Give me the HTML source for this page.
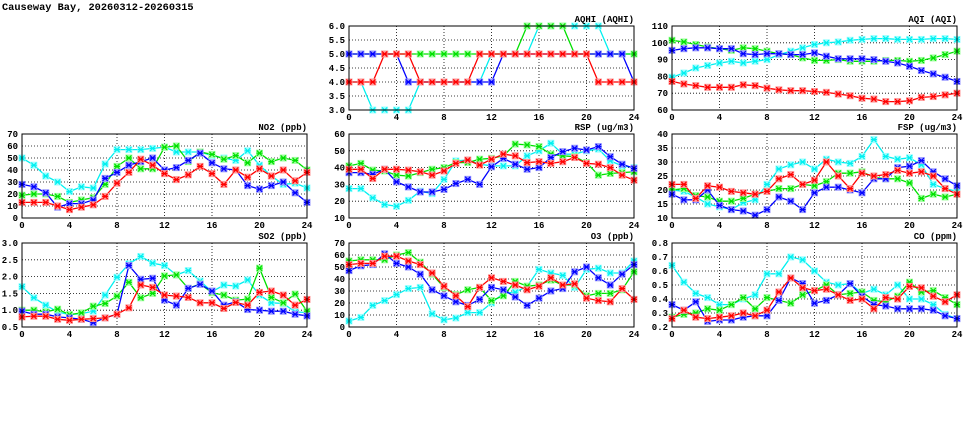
<!DOCTYPE html>
<html><head><meta charset="utf-8">
<style>
html,body{margin:0;padding:0;background:#fff;}
svg{display:block;}
text{font-family:"Liberation Mono",monospace;font-weight:bold;font-size:9px;fill:#000;}
.ttl{font-family:"Liberation Mono",monospace;font-size:10.3px;}
</style></head>
<body>
<svg id="chart" width="975" height="447" viewBox="0 0 975 447" xmlns="http://www.w3.org/2000/svg">
<text class="ttl" x="2" y="10">Causeway Bay, 20260312-20260315</text>
</svg>
<script>
const hours = [0,1,2,3,4,5,6,7,8,9,10,11,12,13,14,15,16,17,18,19,20,21,22,23,24];
const xTicks = [0,4,8,12,16,20,24];

const aqhiCyan  = [4,4,3,3,3,3,4,4,4,4,4,4,5,5,5,5,6,6,6,6,6,6,5,5,5];
const aqhiGreen = [5,5,5,5,5,5,5,5,5,5,5,5,5,5,5,6,6,6,6,5,5,5,5,5,5];
const aqhiBlue  = [5,5,5,5,5,4,4,4,4,4,4,4,4,5,5,5,5,5,5,5,5,5,5,5,4];
const aqhiRed   = [4,4,4,5,5,5,4,4,4,4,4,5,5,5,5,5,5,5,5,5,5,4,4,4,4];
const aqhiTicks = [3.0,3.5,4.0,4.5,5.0,5.5,6.0];

const aqiCyan  = [79.5,82,85,86.5,88,89,88,89,90,93,95,97,99,100,100.5,101.5,102,102.5,102.5,102,102,102,102.5,102.5,102];
const aqiGreen = [101.5,100.5,99,97.5,96.5,95.5,97,96.5,95,93.5,93,91,89.5,89.5,90,89,89,89,89.5,89.5,89,89.5,91,93,95];
const aqiBlue  = [95.5,96.5,97,97,96.5,96.5,93.5,93,93.5,93.5,93,93,94,92,90.5,90.5,90.5,90,89,88,86,83.5,81.5,79.5,77];
const aqiRed   = [77,75.5,74.5,73.5,73.5,73.5,75,74.5,73,72,71.5,71.5,71,70.5,69.5,68.5,67,66.5,65,65,65.5,67.5,68,69,70];
const aqiTicks = [60,70,80,90,100,110];

const no2Cyan  = [50,44,35,30,22,26,25,45,57,57,57,58,59,55,55,55,52,50,48,56,44,35,28,29,25];
const no2Green = [19,20,20,18,13,15,17,28,43,50,41,41,59,60,47,55,53,49,52,46,54,47,50,48,40];
const no2Blue  = [28,26,21,9,12,12,15,33,38,44,47,50,40,42,48,54,46,41,40,27,24,27,30,21,13];
const no2Red   = [13,13,13,10,7,9,11,18,29,38,49,44,37,32,36,43,37,28,40,34,41,35,40,31,38];
const no2Ticks = [0,10,20,30,40,50,60,70];

const rspCyan  = [27.5,27.5,22,18,17,20.5,26,24.5,33,44,44.5,42,41,41,41,47,50,54.5,48,48,50,51,44,41,40];
const rspGreen = [41,42.5,38.5,38,35.5,35,37,39,40,43,43,45,45.5,47,54,53.5,52.5,48,47,46.5,43,35.5,36.5,37,37.5];
const rspBlue  = [37,37,36,39,31.5,28.5,25.5,25.5,27,30.5,33,30,40.5,45.5,42,39,40,46,49.5,51.5,50.5,52.5,46.5,42,39.5];
const rspRed   = [39,39,33.5,39,39,38.5,37.5,35.5,38,42.5,44.5,41.5,45,48,47,43,43.5,42.5,43.5,46,42.5,42,40,35.5,32.5];
const rspTicks = [10,20,30,40,50,60];

const fspCyan  = [20,19.5,17.5,15,14,13,15.5,16.5,22,27.5,29,30,27.5,31,30,29.5,32,38,32,31,31.5,29,22,20.5,19.5];
const fspGreen = [20,20.5,18,17.5,16,16,17,18.5,19.5,20.5,20.5,22,21.5,23,26,26,26.5,24.5,24,24,22.5,17,18.5,17.5,18.5];
const fspBlue  = [18.5,16.5,16.5,20,14.5,13,12.5,11,13,17.5,16,13,19,21,21,20,19,24,24,28,28.5,30.5,26.5,24,21.5];
const fspRed   = [22,22,17,21.5,21,19.5,19,18.5,19.5,24,25.5,22,23.5,30,25,20.5,26,25,25.5,27,26,26.5,25,20.5,18.5];
const fspTicks = [10,15,20,25,30,35,40];

const so2Cyan  = [1.7,1.37,1.15,0.95,0.87,0.9,0.97,1.45,1.98,2.38,2.6,2.4,2.33,2.05,2.18,1.87,1.55,1.75,1.72,1.9,1.45,1.22,1.2,0.95,0.93];
const so2Green = [1.0,1.0,0.95,1.03,0.87,0.92,1.12,1.2,1.42,1.83,1.37,1.5,2.02,2.05,1.65,1.78,1.52,1.45,1.3,1.33,2.25,1.38,1.22,1.48,0.97];
const so2Blue  = [0.97,0.88,0.88,0.8,0.77,0.73,0.63,0.77,0.88,2.33,1.92,1.95,1.3,1.15,1.65,1.77,1.57,1.15,1.25,1.02,1.0,0.97,0.97,0.88,0.83];
const so2Red   = [0.8,0.82,0.82,0.73,0.7,0.73,0.75,0.77,0.88,1.07,1.75,1.68,1.45,1.42,1.38,1.22,1.22,1.05,1.23,1.15,1.53,1.57,1.45,1.15,1.32];
const so2Ticks = [0.5,1.0,1.5,2.0,2.5,3.0];

const o3Cyan  = [5,8,18,22,27,32,33,11,6,7.5,12,12,20,28,29,34,48,45,43,33,48,49,45,45,55];
const o3Green = [55,56,56,56,60,62,54,44,33,27,31,33,22,26,38,34,35,39,35,35,26,28,28,31,46];
const o3Blue  = [47,51,52,61,53,50,44,31,26,21,18,23,33,31,25,18,24,30,32,46,50,41,35,44,52];
const o3Red   = [52,53,53,59,59,55,52,45,34,26,17,33,41,38,35,31,34,41,35,36,24,22,21,32,23];
const o3Ticks = [0,10,20,30,40,50,60,70];

const coCyan  = [0.64,0.52,0.44,0.41,0.36,0.36,0.40,0.43,0.58,0.58,0.70,0.68,0.60,0.52,0.50,0.51,0.44,0.47,0.43,0.50,0.40,0.40,0.36,0.29,0.26];
const coGreen = [0.27,0.29,0.30,0.33,0.32,0.36,0.41,0.33,0.41,0.39,0.37,0.43,0.46,0.50,0.43,0.44,0.45,0.39,0.38,0.42,0.52,0.45,0.46,0.41,0.36];
const coBlue  = [0.36,0.32,0.38,0.24,0.25,0.25,0.27,0.28,0.28,0.39,0.55,0.51,0.37,0.39,0.43,0.51,0.42,0.36,0.35,0.33,0.33,0.33,0.32,0.28,0.26];
const coRed   = [0.26,0.32,0.27,0.26,0.27,0.28,0.30,0.28,0.32,0.45,0.55,0.48,0.46,0.47,0.43,0.39,0.40,0.33,0.41,0.40,0.49,0.48,0.42,0.38,0.43];
const coTicks = [0.2,0.3,0.4,0.5,0.6,0.7,0.8];

const NS = "http://www.w3.org/2000/svg";
const svg = document.getElementById('chart');
const COLORS = {cyan:'#00f0f0', green:'#00e000', blue:'#0000ff', red:'#ff0000'};
const HALO = {cyan:'#a0ffff', green:'#a0ffa0', blue:'#9a9aff', red:'#ff9a9a'};

function mk(tag, attrs, parent){
  const e = document.createElementNS(NS, tag);
  for (const k in attrs) e.setAttribute(k, attrs[k]);
  (parent||svg).appendChild(e);
  return e;
}

function panel(key, title, L, T, W, H, yTicks, dec, series){
  const g = mk('g', {});
  
  
  const ymin = yTicks[0], ymax = yTicks[yTicks.length-1];
  const xs = v => L + (v - 0) / 24 * W;
  const ys = v => T + H - (v - ymin) / (ymax - ymin) * H;
  yTicks.forEach((t, i) => {
    const y = ys(t);
    if (i > 0 && i < yTicks.length - 1) {
      const gl = mk('line', {x1:L, x2:L+W, y1:y, y2:y, stroke:'#000', 'stroke-width':0.8, 'stroke-dasharray':'1,2'}, g);
      
      
    }
    const lb = mk('text', {x:L-4, y:y+3, 'text-anchor':'end'}, g);
    lb.textContent = t.toFixed(dec);
    
    
  });
  xTicks.forEach((t, i) => {
    const x = xs(t);
    if (i > 0 && i < xTicks.length - 1) {
      const gl = mk('line', {x1:x, x2:x, y1:T, y2:T+H, stroke:'#000', 'stroke-width':0.8, 'stroke-dasharray':'1,2'}, g);
      
      
    }
    const lb = mk('text', {x:x, y:T+H+10, 'text-anchor':'middle'}, g);
    lb.textContent = String(t);
    
    
  });
  series.forEach(s => {
    const sg = mk('g', {}, g);
    
    
    const pts = s.v.map((v, i) => xs(hours[i]).toFixed(1) + ',' + ys(v).toFixed(1)).join(' ');
    const pl = mk('polyline', {points:pts, fill:'none', stroke:COLORS[s.c], 'stroke-width':1.3}, sg);
    
    
    s.v.forEach((v, i) => {
      const x = xs(hours[i]), y = ys(v);
      const m = mk('g', {}, sg);
      
      
      mk('rect', {x:x-3.5, y:y-3.5, width:7, height:7, fill:HALO[s.c]}, m);
      const d = 2.6;
      mk('path', {d:`M${x-d},${y-d}L${x+d},${y+d}M${x-d},${y+d}L${x+d},${y-d}M${x-3},${y}L${x+3},${y}`, stroke:COLORS[s.c], 'stroke-width':1.2}, m);
    });
  });
  const fr = mk('rect', {x:L, y:T, width:W, height:H, fill:'none', stroke:'#000', 'stroke-width':1}, g);
  
  
  const tt = mk('text', {x:L+W, y:T-4, 'text-anchor':'end'}, g);
  tt.textContent = title;
  
  
}

const W = 285, H = 84;
const C1 = 22, C2 = 349, C3 = 672;
const R1 = 26, R2 = 134, R3 = 243;
const S = (a,b,c,d) => [{c:'cyan',v:a},{c:'green',v:b},{c:'blue',v:c},{c:'red',v:d}];

panel('aqhi','AQHI (AQHI)',C2,R1,W,H,aqhiTicks,1,S(aqhiCyan,aqhiGreen,aqhiBlue,aqhiRed));
panel('aqi','AQI (AQI)',C3,R1,W,H,aqiTicks,0,S(aqiCyan,aqiGreen,aqiBlue,aqiRed));
panel('no2','NO2 (ppb)',C1,R2,W,H,no2Ticks,0,S(no2Cyan,no2Green,no2Blue,no2Red));
panel('rsp','RSP (ug/m3)',C2,R2,W,H,rspTicks,0,S(rspCyan,rspGreen,rspBlue,rspRed));
panel('fsp','FSP (ug/m3)',C3,R2,W,H,fspTicks,0,S(fspCyan,fspGreen,fspBlue,fspRed));
panel('so2','SO2 (ppb)',C1,R3,W,H,so2Ticks,1,S(so2Cyan,so2Green,so2Blue,so2Red));
panel('o3','O3 (ppb)',C2,R3,W,H,o3Ticks,0,S(o3Cyan,o3Green,o3Blue,o3Red));
panel('co','CO (ppm)',C3,R3,W,H,coTicks,1,S(coCyan,coGreen,coBlue,coRed));
</script>
</body></html>
